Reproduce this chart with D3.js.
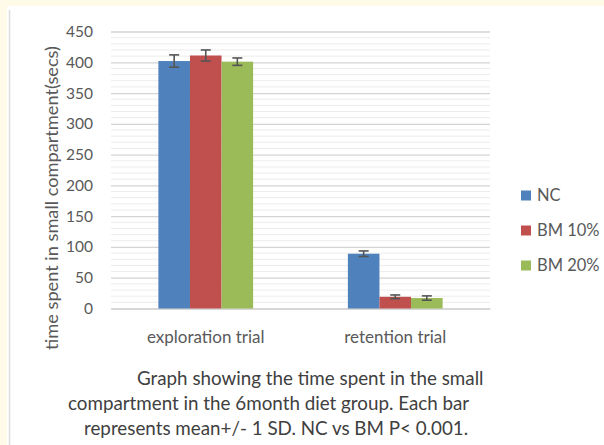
<!DOCTYPE html>
<html lang="en">
<head>
<meta charset="UTF-8">
<title>Time spent in small compartment</title>
<script src="https://d3js.org/d3.v7.min.js"></script>
<style>
    body { margin: 0; background: #fffbe8; }
    svg { display: block; font-family: Lato, "Open Sans", sans-serif; }
</style>
</head>
<body>
<svg width="604" height="445"></svg>
<script>
    // data
    let categories = ["exploration trial", "retention trial"];
    let seriesNames = ["NC", "BM 10%", "BM 20%"];
    let means = {
        "NC":     [402, 89],
        "BM 10%": [411, 19],
        "BM 20%": [401, 17]
    };
    let sds = {
        "NC":     [10, 4.5],
        "BM 10%": [9, 3],
        "BM 20%": [6, 3.5]
    };
    let yTicks = [0, 50, 100, 150, 200, 250, 300, 350, 400, 450];
    let captionLines = [
        "Graph showing the time spent in the small",
        "compartment in the 6month diet group. Each bar",
        "represents mean+/- 1 SD. NC vs BM P< 0.001."
    ];
    let colors = ["#4f81bd", "#c0504d", "#9bbb59"];

    let svg = d3.select("svg");
    let margins = {left: 111, right: 114, top: 31.5, bottom: 136.5};
    let W = 604, H = 445;
    let font = "Lato, 'Open Sans', sans-serif";

    // white panel on the cream page
    svg.append("rect").attr("x", 7).attr("y", 6).attr("width", W - 7).attr("height", H - 6).attr("fill", "#fff");
    svg.append("line").attr("x1", 9.5).attr("x2", 9.5).attr("y1", 10).attr("y2", H)
        .attr("stroke", "#dcdcdc").attr("stroke-width", 1.5);

    let yScale = d3.scaleLinear().domain([0, 450]).range([H - margins.bottom, margins.top]);
    let xScale = d3.scaleBand().domain(categories).range([margins.left, W - margins.right]);
    let inner = d3.scaleBand().domain(seriesNames)
        .range([xScale.bandwidth() / 4, xScale.bandwidth() * 3 / 4]);

    // minor gridlines every 10
    svg.append("g").selectAll("line")
        .data(d3.range(10, 450, 10).filter(v => v % 50 !== 0))
        .join("line")
        .attr("x1", margins.left).attr("x2", W - margins.right)
        .attr("y1", d => yScale(d)).attr("y2", d => yScale(d))
        .attr("stroke", "#ececec").attr("stroke-width", 1);

    // y axis with major gridlines
    let yAxis = svg.append("g")
        .attr("transform", "translate(" + margins.left + ",0)")
        .attr("font-family", font)
        .call(d3.axisLeft(yScale).tickValues(yTicks).tickSize(-(W - margins.left - margins.right)).tickPadding(18));
    yAxis.attr("font-family", font);
    yAxis.select(".domain").remove();
    yAxis.selectAll(".tick line").attr("stroke", "#d4d4d4").attr("stroke-width", 1.3);
    yAxis.selectAll(".tick text").attr("fill", "#595959").style("font-size", "15.5px");

    // x axis labels
    let xAxis = svg.append("g")
        .attr("transform", "translate(0," + (H - margins.bottom) + ")")
        .call(d3.axisBottom(xScale).tickSize(0).tickPadding(22));
    xAxis.attr("font-family", font);
    xAxis.select(".domain").attr("stroke", "#d4d4d4").attr("stroke-width", 1.3);
    xAxis.selectAll(".tick text").attr("fill", "#595959").style("font-size", "17px");

    // bars
    let groups = svg.append("g").selectAll("g")
        .data(seriesNames)
        .join("g")
        .attr("fill", (d, i) => colors[i]);
    groups.selectAll("rect")
        .data(s => categories.map((c, j) => ({s: s, c: c, v: means[s][j], e: sds[s][j]})))
        .join("rect")
        .attr("x", d => xScale(d.c) + inner(d.s))
        .attr("width", inner.bandwidth())
        .attr("y", d => yScale(d.v))
        .attr("height", d => yScale(0) - yScale(d.v));

    // error bars
    let errs = svg.append("g").attr("stroke", "#555").attr("stroke-width", 1.6)
        .selectAll("g")
        .data(seriesNames.flatMap(s => categories.map((c, j) => ({s: s, c: c, v: means[s][j], e: sds[s][j]}))))
        .join("g")
        .attr("transform", d => "translate(" + (xScale(d.c) + inner(d.s) + inner.bandwidth() / 2) + ",0)");
    errs.append("line").attr("y1", d => yScale(d.v - d.e)).attr("y2", d => yScale(d.v + d.e));
    errs.append("line").attr("x1", -5).attr("x2", 5).attr("y1", d => yScale(d.v - d.e)).attr("y2", d => yScale(d.v - d.e));
    errs.append("line").attr("x1", -5).attr("x2", 5).attr("y1", d => yScale(d.v + d.e)).attr("y2", d => yScale(d.v + d.e));

    // y axis title
    svg.append("text")
        .attr("transform", "translate(58," + 198 + ") rotate(-90)")
        .attr("text-anchor", "middle")
        .attr("fill", "#595959")
        .style("font-size", "18.2px")
        .text("time spent in small compartment(secs)");

    // legend
    let legend = svg.append("g").selectAll("g")
        .data(seriesNames)
        .join("g")
        .attr("transform", (d, i) => "translate(521," + (195.5 + i * 35) + ")");
    legend.append("rect").attr("x", 0).attr("y", -5).attr("width", 10).attr("height", 10)
        .attr("fill", (d, i) => colors[i]);
    legend.append("text").attr("x", 16).attr("dy", "0.35em")
        .attr("fill", "#595959").style("font-size", "16.5px")
        .text(d => d);

    // caption
    svg.append("g").selectAll("text")
        .data(captionLines)
        .join("text")
        .attr("x", (d, i) => [137, 68, 84][i])
        .attr("y", (d, i) => 385 + i * 25)
        .attr("fill", "#404040")
        .style("font-size", "18.8px")
        .text(d => d);
</script>
</body>
</html>
